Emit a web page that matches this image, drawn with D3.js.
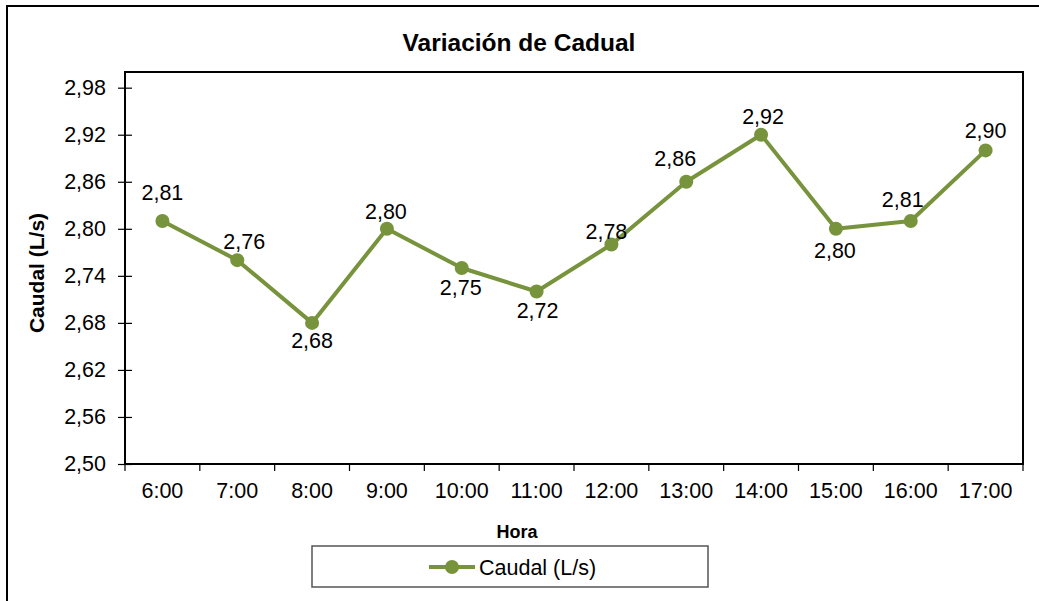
<!DOCTYPE html>
<html>
<head>
<meta charset="utf-8">
<script src="https://cdn.jsdelivr.net/npm/d3@7"></script>
<style>
  body { margin: 0; background: #fff; }
  text { font-family: "Liberation Sans", Arial, sans-serif; fill: #000; }
</style>
</head>
<body>
<svg id="chart"></svg>
<script>
const width = 1039;
const height = 601;

// data
const horas = ["6:00", "7:00", "8:00", "9:00", "10:00", "11:00", "12:00", "13:00", "14:00", "15:00", "16:00", "17:00"];
const caudal = [2.81, 2.76, 2.68, 2.80, 2.75, 2.72, 2.78, 2.86, 2.92, 2.80, 2.81, 2.90];
const yTicks = [2.50, 2.56, 2.62, 2.68, 2.74, 2.80, 2.86, 2.92, 2.98];

// where each data label sits relative to its point (dx, dy)
const labelOffsets = [[0, -28], [7, -19], [0, 18], [-1, -17], [-1, 19], [1, 19],
                      [-5, -13], [-11, -23], [2, -18], [-1, 22], [-8, -21], [0, -20]];

const green = "#77933c";
const margin = {top: 72, right: 16, bottom: 137, left: 125};

const svg = d3.select("#chart")
    .attr("width", width)
    .attr("height", height);

// outer chart border
svg.append("rect")
    .attr("x", 7).attr("y", 6)
    .attr("width", 1200).attr("height", 800)
    .attr("fill", "none")
    .attr("stroke", "#000")
    .attr("stroke-width", 2);

const x = d3.scaleBand()
    .domain(horas)
    .range([margin.left, width - margin.right]);

const y = d3.scaleLinear()
    .domain([2.50, 3.00])
    .range([height - margin.bottom, margin.top]);

const fmt = v => d3.format(".2f")(v).replace(".", ",");

// title
svg.append("text")
    .attr("x", 519).attr("y", 51)
    .attr("text-anchor", "middle")
    .attr("font-size", 24.5)
    .attr("font-weight", "bold")
    .text("Variación de Cadual");

// plot frame
svg.append("rect")
    .attr("x", margin.left).attr("y", margin.top)
    .attr("width", x.range()[1] - margin.left)
    .attr("height", y.range()[0] - margin.top)
    .attr("fill", "none")
    .attr("stroke", "#000")
    .attr("stroke-width", 2);

// y axis
const yAxis = svg.append("g")
    .attr("transform", `translate(${margin.left},0)`)
    .call(d3.axisLeft(y).tickValues(yTicks).tickFormat(fmt).tickSize(7).tickPadding(12));
yAxis.select(".domain").remove();
yAxis.selectAll(".tick line").attr("x2", 7).attr("x1", -7).attr("stroke-width", 1.2);
yAxis.selectAll(".tick text")
    .attr("font-size", 21.5)
    .attr("font-family", "Liberation Sans, Arial, sans-serif");

// x axis: ticks on category boundaries, labels centered
const bounds = horas.map(h => x(h)).concat([x.range()[1]]);
svg.append("g").selectAll("line")
    .data(bounds)
    .enter()
    .append("line")
    .attr("x1", d => d).attr("x2", d => d)
    .attr("y1", y.range()[0]).attr("y2", y.range()[0] + 7)
    .attr("stroke", "#000")
    .attr("stroke-width", 1.2);

svg.append("g").selectAll("text")
    .data(horas)
    .enter()
    .append("text")
    .attr("x", d => x(d) + x.bandwidth() / 2)
    .attr("y", 498)
    .attr("text-anchor", "middle")
    .attr("font-size", 21.5)
    .text(d => d);

// axis titles
svg.append("text")
    .attr("x", 517).attr("y", 538)
    .attr("text-anchor", "middle")
    .attr("font-size", 18)
    .attr("font-weight", "bold")
    .text("Hora");

svg.append("text")
    .attr("transform", "translate(44,273) rotate(-90)")
    .attr("text-anchor", "middle")
    .attr("font-size", 21)
    .attr("font-weight", "bold")
    .text("Caudal (L/s)");

// series
const pts = horas.map((h, i) => ({h, v: caudal[i], off: labelOffsets[i]}));
const cx = d => x(d.h) + x.bandwidth() / 2;

svg.append("path")
    .datum(pts)
    .attr("fill", "none")
    .attr("stroke", green)
    .attr("stroke-width", 4)
    .attr("stroke-linejoin", "round")
    .attr("d", d3.line().x(cx).y(d => y(d.v)));

svg.append("g").selectAll("circle")
    .data(pts)
    .enter()
    .append("circle")
    .attr("cx", cx)
    .attr("cy", d => y(d.v))
    .attr("r", 7)
    .attr("fill", green);

svg.append("g").selectAll("text")
    .data(pts)
    .enter()
    .append("text")
    .attr("x", d => cx(d) + d.off[0])
    .attr("y", d => y(d.v) + d.off[1])
    .attr("dy", "0.35em")
    .attr("text-anchor", "middle")
    .attr("font-size", 21.5)
    .text(d => fmt(d.v));

// legend
const legend = svg.append("g").attr("transform", "translate(312,546)");
legend.append("rect")
    .attr("width", 396).attr("height", 41)
    .attr("fill", "#fff")
    .attr("stroke", "#555")
    .attr("stroke-width", 1.5);
legend.append("line")
    .attr("x1", 117).attr("x2", 163)
    .attr("y1", 21).attr("y2", 21)
    .attr("stroke", green)
    .attr("stroke-width", 4);
legend.append("circle")
    .attr("cx", 140).attr("cy", 21).attr("r", 7)
    .attr("fill", green);
legend.append("text")
    .attr("x", 167).attr("y", 21)
    .attr("dy", "0.35em")
    .attr("font-size", 21.5)
    .text("Caudal (L/s)");
</script>
</body>
</html>
